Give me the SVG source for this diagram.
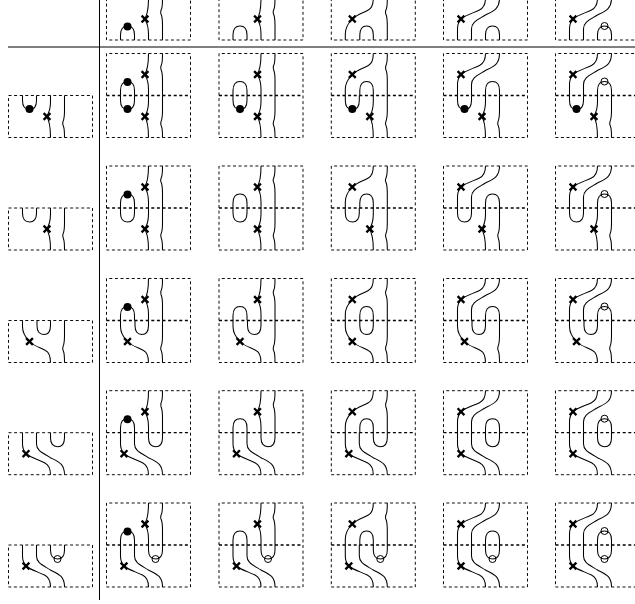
<svg xmlns="http://www.w3.org/2000/svg" xmlns:xlink="http://www.w3.org/1999/xlink" width="635" height="604" viewBox="0 0 635 604">
<style>
.s{fill:none;stroke:#000;stroke-width:1.05}
.x{fill:none;stroke:#000;stroke-width:2.3}
.o{fill:none;stroke:#000;stroke-width:1}
.d{fill:#000;stroke:none}
.b{fill:none;stroke:#000;stroke-width:.95;stroke-dasharray:3 2.6}
.m{fill:none;stroke:#000;stroke-width:1.3;stroke-dasharray:3 2.6}
.r{stroke:#000;stroke-width:1;fill:none}
</style>
<defs>
<path id="k" class="s" d="M56 0V15C56 19 56 23 54.5 26C53.8 28 54 29 55 31C56 33 56 35 56 42"/>
<path id="st42" class="s" d="M42 0V6C42 11 41 17 38 21C41 25 42 30 42 42"/>
<path id="xm" class="x" d="M-3.400 -3.400L3.400 3.400M-3.400 3.400L3.400 -3.400"/>
<path id="cupA" class="s" d="M14 0V5C14 11 16.500 14 21 14C25.500 14 28 11 28 5V0"/>
<path id="cupB" class="s" d="M28.500 0V5C28.500 11 31 14 35.300 14C39.500 14 42 11 42 5V0"/>
<path id="cupC" class="s" d="M42 0V5C42 11 44.500 14 49 14C53.500 14 56 11 56 5V0"/>
<path id="cr21" class="s" d="M14 0V6C14 13 17 17 21 21C26 26 32 27 37 30C41 32 42 36 42 42"/>
<path id="cr17" class="s" d="M14 0V11C14 15 15 18 17.500 21C22 25 30 27 36 30C40 32 42 36 42 42"/>
<path id="st28" class="s" d="M28 0V11C28 18 34 20 42 25C50 29 56 31 56 42"/>
<path id="frame" class="b" d="M0 0V-42H84V42H0V0"/>
<path id="mid" class="m" d="M0 0H84"/>
<g id="t0"><use href="#cupA"/><circle class="d" cx="21" cy="13.500" r="4"/><use href="#st42"/><use href="#xm" x="38.500" y="21"/><use href="#k"/></g>
<g id="t1"><use href="#cupA"/><use href="#st42"/><use href="#xm" x="38.500" y="21"/><use href="#k"/></g>
<g id="t2"><use href="#cr21"/><use href="#xm" x="21" y="21"/><use href="#cupB"/><use href="#k"/></g>
<g id="t3"><use href="#cr17"/><use href="#xm" x="17.500" y="21"/><use href="#st28"/><use href="#cupC"/></g>
<g id="t4"><use href="#t3"/><circle class="o" cx="49" cy="14" r="3.500"/></g>
</defs>
<g id="axes"><path class="r" d="M8 47H635"/><path class="r" d="M99.500 0V600"/></g>

<g id="header-top-0" transform="translate(106.500 40)"><path class="b" d="M0 -42V0H84V-42"/><use href="#t0" transform="scale(1 -1)"/></g>
<g id="header-top-1" transform="translate(219 40)"><path class="b" d="M0 -42V0H84V-42"/><use href="#t1" transform="scale(1 -1)"/></g>
<g id="header-top-2" transform="translate(331.300 40)"><path class="b" d="M0 -42V0H84V-42"/><use href="#t2" transform="scale(1 -1)"/></g>
<g id="header-top-3" transform="translate(443.500 40)"><path class="b" d="M0 -42V0H84V-42"/><use href="#t3" transform="scale(1 -1)"/></g>
<g id="header-top-4" transform="translate(555.500 40)"><path class="b" d="M0 -42V0H84V-42"/><use href="#t4" transform="scale(1 -1)"/></g>

<g id="header-left-0" transform="translate(8.500 95.500)"><path class="b" d="M0 0H84V42H0Z"/><use href="#t0"/></g>
<g id="header-left-1" transform="translate(8.500 208)"><path class="b" d="M0 0H84V42H0Z"/><use href="#t1"/></g>
<g id="header-left-2" transform="translate(8.500 320.500)"><path class="b" d="M0 0H84V42H0Z"/><use href="#t2"/></g>
<g id="header-left-3" transform="translate(8.500 432.700)"><path class="b" d="M0 0H84V42H0Z"/><use href="#t3"/></g>
<g id="header-left-4" transform="translate(8.500 545)"><path class="b" d="M0 0H84V42H0Z"/><use href="#t4"/></g>

<g id="cell-0-0" transform="translate(106.500 95.500)"><use href="#frame"/><use href="#mid"/><use href="#t0" transform="scale(1 -1)"/><use href="#t0"/></g>
<g id="cell-0-1" transform="translate(219 95.500)"><use href="#frame"/><use href="#mid"/><use href="#t1" transform="scale(1 -1)"/><use href="#t0"/></g>
<g id="cell-0-2" transform="translate(331.300 95.500)"><use href="#frame"/><use href="#mid"/><use href="#t2" transform="scale(1 -1)"/><use href="#t0"/></g>
<g id="cell-0-3" transform="translate(443.500 95.500)"><use href="#frame"/><use href="#mid"/><use href="#t3" transform="scale(1 -1)"/><use href="#t0"/></g>
<g id="cell-0-4" transform="translate(555.500 95.500)"><use href="#frame"/><use href="#mid"/><use href="#t4" transform="scale(1 -1)"/><use href="#t0"/></g>

<g id="cell-1-0" transform="translate(106.500 208)"><use href="#frame"/><use href="#mid"/><use href="#t0" transform="scale(1 -1)"/><use href="#t1"/></g>
<g id="cell-1-1" transform="translate(219 208)"><use href="#frame"/><use href="#mid"/><use href="#t1" transform="scale(1 -1)"/><use href="#t1"/></g>
<g id="cell-1-2" transform="translate(331.300 208)"><use href="#frame"/><use href="#mid"/><use href="#t2" transform="scale(1 -1)"/><use href="#t1"/></g>
<g id="cell-1-3" transform="translate(443.500 208)"><use href="#frame"/><use href="#mid"/><use href="#t3" transform="scale(1 -1)"/><use href="#t1"/></g>
<g id="cell-1-4" transform="translate(555.500 208)"><use href="#frame"/><use href="#mid"/><use href="#t4" transform="scale(1 -1)"/><use href="#t1"/></g>

<g id="cell-2-0" transform="translate(106.500 320.500)"><use href="#frame"/><use href="#mid"/><use href="#t0" transform="scale(1 -1)"/><use href="#t2"/></g>
<g id="cell-2-1" transform="translate(219 320.500)"><use href="#frame"/><use href="#mid"/><use href="#t1" transform="scale(1 -1)"/><use href="#t2"/></g>
<g id="cell-2-2" transform="translate(331.300 320.500)"><use href="#frame"/><use href="#mid"/><use href="#t2" transform="scale(1 -1)"/><use href="#t2"/></g>
<g id="cell-2-3" transform="translate(443.500 320.500)"><use href="#frame"/><use href="#mid"/><use href="#t3" transform="scale(1 -1)"/><use href="#t2"/></g>
<g id="cell-2-4" transform="translate(555.500 320.500)"><use href="#frame"/><use href="#mid"/><use href="#t4" transform="scale(1 -1)"/><use href="#t2"/></g>

<g id="cell-3-0" transform="translate(106.500 432.700)"><use href="#frame"/><use href="#mid"/><use href="#t0" transform="scale(1 -1)"/><use href="#t3"/></g>
<g id="cell-3-1" transform="translate(219 432.700)"><use href="#frame"/><use href="#mid"/><use href="#t1" transform="scale(1 -1)"/><use href="#t3"/></g>
<g id="cell-3-2" transform="translate(331.300 432.700)"><use href="#frame"/><use href="#mid"/><use href="#t2" transform="scale(1 -1)"/><use href="#t3"/></g>
<g id="cell-3-3" transform="translate(443.500 432.700)"><use href="#frame"/><use href="#mid"/><use href="#t3" transform="scale(1 -1)"/><use href="#t3"/></g>
<g id="cell-3-4" transform="translate(555.500 432.700)"><use href="#frame"/><use href="#mid"/><use href="#t4" transform="scale(1 -1)"/><use href="#t3"/></g>

<g id="cell-4-0" transform="translate(106.500 545)"><use href="#frame"/><use href="#mid"/><use href="#t0" transform="scale(1 -1)"/><use href="#t4"/></g>
<g id="cell-4-1" transform="translate(219 545)"><use href="#frame"/><use href="#mid"/><use href="#t1" transform="scale(1 -1)"/><use href="#t4"/></g>
<g id="cell-4-2" transform="translate(331.300 545)"><use href="#frame"/><use href="#mid"/><use href="#t2" transform="scale(1 -1)"/><use href="#t4"/></g>
<g id="cell-4-3" transform="translate(443.500 545)"><use href="#frame"/><use href="#mid"/><use href="#t3" transform="scale(1 -1)"/><use href="#t4"/></g>
<g id="cell-4-4" transform="translate(555.500 545)"><use href="#frame"/><use href="#mid"/><use href="#t4" transform="scale(1 -1)"/><use href="#t4"/></g>
</svg>
